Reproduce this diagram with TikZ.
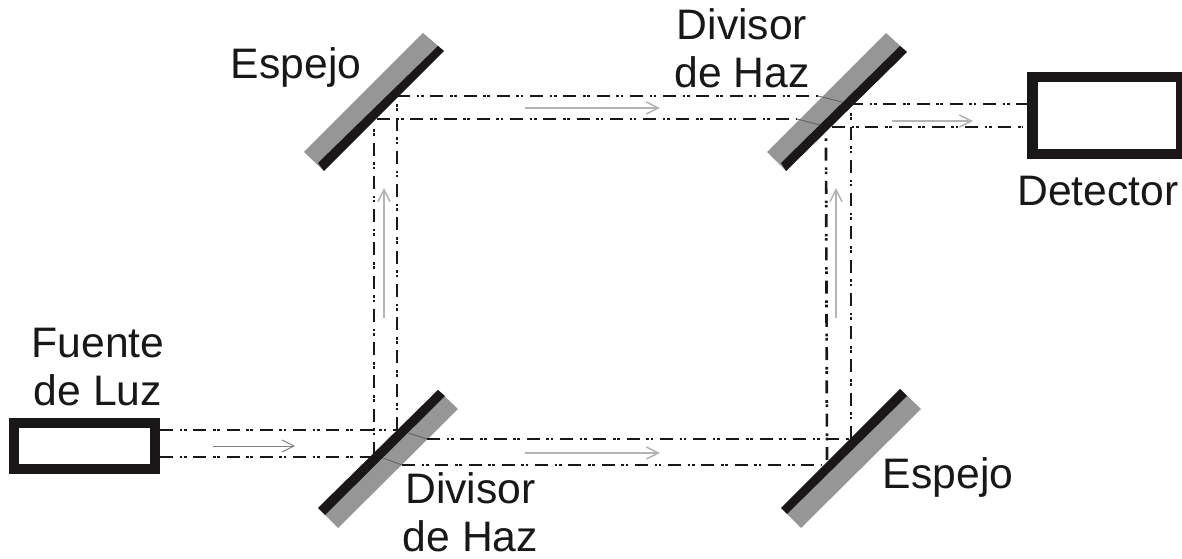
\documentclass[tikz,border=0pt]{standalone}
\usepackage{xcolor}
\usepackage{fontspec}
\setmainfont{Liberation Sans}
\usetikzlibrary{arrows.meta,positioning,calc}
\definecolor{Ink}{HTML}{1A1718}
\definecolor{MirrorGray}{HTML}{969696}
\definecolor{RayGray}{HTML}{B4B4B4}
\definecolor{RayDark}{HTML}{808080}
\tikzset{
  lbl/.style={font=\fontsize{32}{36}\selectfont,text=Ink,align=center,inner sep=0pt},
  boxnd/.style={rectangle,draw=Ink,fill=white,inner sep=0pt},
  beam/.style={draw=Ink,line width=2pt,dash pattern=on 9.75pt off 5pt on 2pt off 1.2pt on 2pt off 5pt},
  thru/.style={draw=Ink!70!white,line width=.6pt},
  ray/.style={-{Straight Barb[length=9pt,width=9pt]},line width=1.1pt,color=RayGray}}
\begin{document}
\begin{tikzpicture}[x=.75pt,y=-.75pt]
  \useasboundingbox (0,0) rectangle (1182,559);
  % mirrors
  \fill[MirrorGray](423,33)--(444,51)--(324,171)--(304,152)--cycle;
  \fill[Ink](438,46)--(444,51)--(324,171)--(318,163)--cycle;
  \fill[MirrorGray](886,33)--(907,52)--(786,171)--(767,152)--cycle;
  \fill[Ink](900,46)--(907,52)--(786,171)--(781,163)--cycle;
  \fill[MirrorGray](438,390)--(458,409)--(338,528)--(318,508)--cycle;
  \fill[Ink](438,390)--(445,396)--(325,515)--(318,508)--cycle;
  \fill[MirrorGray](900,389)--(921,409)--(801,528)--(781,508)--cycle;
  \fill[Ink](900,389)--(907,396)--(787,514)--(781,508)--cycle;
  % boxes
  \node[boxnd,line width=7.2pt,minimum width=105.75pt,minimum height=34.5pt] (fuente) at (84.5,446) {};
  \node[boxnd,line width=7.9pt,minimum width=111.75pt,minimum height=57.75pt] (detector) at (1107,115.5) {};
  % corners of the beams
  \coordinate (s1) at (160,430);
  \coordinate (s2) at (160,457);
  \coordinate (a1) at (397,430);
  \coordinate (a2) at (372,457);
  \coordinate (b1) at (408,433);
  \coordinate (b2) at (427,439);
  \coordinate (c1) at (383,458);
  \coordinate (c2) at (402,465);
  \coordinate (d1) at (851,439);
  \coordinate (d2) at (822,465);
  \coordinate (e1) at (397,102);
  \coordinate (e2) at (374,128);
  \coordinate (f1) at (397,96);
  \coordinate (f2) at (377,119);
  \coordinate (g1) at (818,96);
  \coordinate (g2) at (842,102);
  \coordinate (g3) at (850,104);
  \coordinate (h1) at (797,119);
  \coordinate (h2) at (820,125);
  \coordinate (h3) at (832,127);
  \coordinate (k1) at (851,112);
  \coordinate (k2) at (826,138);
  \coordinate (k3) at (827,460);
  \coordinate (m1) at (374,455);
  \coordinate (t1) at (1027,104);
  \coordinate (t2) at (1023,127);
  % beams
  \draw[beam](s1)--(a1);
  \draw[beam](s2)--(a2);
  \draw[beam](a1)--(e1);
  \draw[beam](m1)--(e2);
  \draw[beam](f1)--(g1);
  \draw[beam](f2)--(h1);
  \draw[beam](g3)--(t1);
  \draw[beam](h3)--(t2);
  \draw[beam](b2)--(d1);
  \draw[beam](c2)--(d2);
  \draw[beam](d1)--(k1);
  \draw[beam](k3)--(k2);
  \draw[thru](b1)--(b2);
  \draw[thru](c1)--(c2);
  \draw[thru](g1)--(g2);
  \draw[thru](h1)--(h2);
  % rays
  \coordinate (r1) at (213,446);
  \coordinate (r2) at (295,446);
  \coordinate (r3) at (525,453);
  \coordinate (r4) at (660,453);
  \coordinate (r5) at (384,318);
  \coordinate (r6) at (384,188);
  \coordinate (r7) at (525,108);
  \coordinate (r8) at (660,108);
  \coordinate (r9) at (836,318);
  \coordinate (r10) at (836,188);
  \coordinate (r11) at (892,121);
  \coordinate (r12) at (973,121);
  \draw[ray,color=RayDark,line width=.7pt](r1)--(r2);
  \draw[ray](r3)--(r4);
  \draw[ray](r5)--(r6);
  \draw[ray](r7)--(r8);
  \draw[ray](r9)--(r10);
  \draw[ray](r11)--(r12);
  % labels
  \node[lbl] (lblfuente) at (98,367) {Fuente\\de Luz};
  \node[lbl] (lblesp1) at (296,67) {Espejo};
  \node[lbl] (lblbs1) at (742,48.5) {Divisor\\de Haz};
  \node[lbl] (lbldet) at (1098,191) {Detector};
  \node[lbl] (lblbs2) at (470.5,512) {Divisor\\de Haz};
  \node[lbl] (lblesp2) at (948,477) {Espejo};
\end{tikzpicture}
\end{document}
